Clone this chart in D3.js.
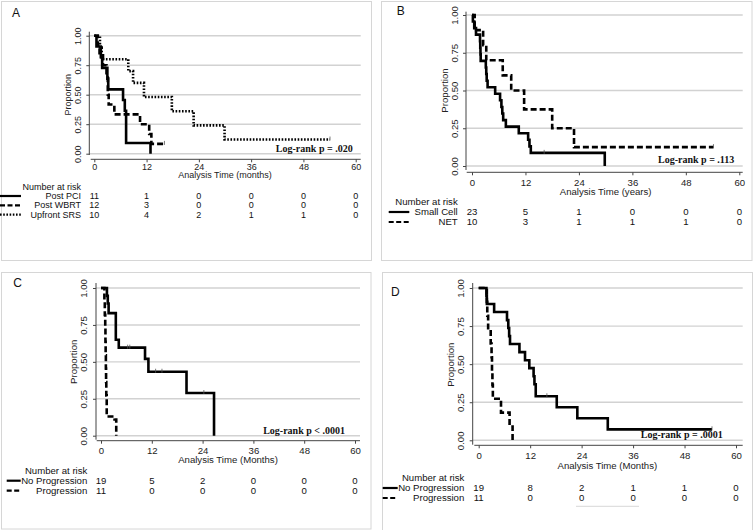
<!DOCTYPE html>
<html><head><meta charset="utf-8">
<script src="https://cdn.jsdelivr.net/npm/d3@7"></script>
<style>body{margin:0;background:#fff}svg{display:block}</style>
</head><body>
<svg id="chart" width="754" height="530"></svg>
<script>
// ---------- data ----------
const xTicks = [0, 12, 24, 36, 48, 60];
const yTicks = [0, 0.25, 0.5, 0.75, 1];

// Panel A (months)
const A_postPCI = [[0,1],[0.5,0.909],[1.5,0.818],[1.8,0.727],[3.0,0.636],[3.2,0.545],[6.6,0.455],[7.0,0.364],[7.3,0.091],[12.9,0]];
const A_postWBRT = [[0,1],[0.8,0.917],[1.2,0.833],[2.0,0.75],[2.8,0.667],[3.1,0.5],[3.3,0.417],[4.6,0.333],[10.5,0.25],[12.6,0.167],[13.1,0.083],[16.1,0.083]];
const A_upfrontSRS = [[0,1],[1.3,0.9],[1.7,0.8],[7.8,0.7],[8.9,0.6],[11.4,0.48],[17.8,0.36],[22.8,0.24],[29.9,0.12],[54.1,0.12]];
const A_censor_WBRT = [[16.1,0.083]];
const A_censor_SRS = [[54.1,0.12]];
const A_risk_PCI = [11, 1, 0, 0, 0, 0];
const A_risk_WBRT = [12, 3, 0, 0, 0, 0];
const A_risk_SRS = [10, 4, 2, 1, 1, 0];

// Panel B
const B_smallCell = [[0,1],[0.2,0.957],[0.5,0.913],[0.9,0.870],[1.8,0.826],[1.85,0.783],[1.9,0.739],[1.95,0.696],[3.1,0.652],[3.2,0.609],[3.3,0.565],[3.5,0.522],[5.2,0.478],[6.3,0.435],[6.6,0.391],[6.8,0.348],[7.0,0.304],[7.6,0.261],[10.5,0.217],[12.6,0.174],[12.9,0.130],[13.2,0.087],[29.8,0]];
const B_NET = [[0,1],[0.6,0.9],[2.5,0.8],[3.2,0.7],[6.9,0.6],[8.8,0.5],[11.7,0.375],[18.0,0.25],[22.9,0.125],[54.2,0.125]];
const B_censor_small = [[16.2,0.087]];
const B_censor_NET = [[54.2,0.125]];
const B_risk_small = [23, 5, 1, 0, 0, 0];
const B_risk_NET = [10, 3, 1, 1, 1, 0];

// Panel C
const C_noProg = [[0,1],[1.4,0.947],[1.6,0.895],[1.8,0.83],[3.5,0.65],[4.2,0.596],[10.4,0.52],[11.2,0.433],[20.2,0.289],[26.7,0]];
const C_prog = [[0,1],[0.8,0.909],[0.9,0.818],[1.0,0.727],[1.05,0.636],[1.1,0.545],[1.15,0.455],[1.2,0.364],[1.25,0.273],[1.35,0.13],[3.2,0.11],[3.6,0]];
const C_censor_noProg = [[6.3,0.596],[6.8,0.596],[12.9,0.433],[14.4,0.433],[24.3,0.289]];
const C_risk_noProg = [19, 5, 2, 0, 0, 0];
const C_risk_prog = [11, 0, 0, 0, 0, 0];

// Panel D
const D_noProg = [[0,1],[1.8,0.947],[1.9,0.895],[3.6,0.842],[6.6,0.789],[6.9,0.737],[7.1,0.684],[7.3,0.632],[9.5,0.579],[10.8,0.526],[11.8,0.474],[12.8,0.421],[13.0,0.368],[13.3,0.289],[18.2,0.217],[23.0,0.145],[30.1,0.072],[54.4,0.072]];
const D_prog = [[0,1],[1.9,0.909],[2.0,0.818],[2.2,0.727],[2.8,0.636],[3.0,0.545],[3.1,0.455],[3.2,0.364],[3.3,0.273],[5.2,0.182],[7.2,0.091],[7.9,0]];
const D_censor_noProg = [[15.9,0.289],[54.4,0.072]];
const D_risk_noProg = [19, 8, 2, 1, 1, 0];
const D_risk_prog = [11, 0, 0, 0, 0, 0];

// ---------- styles / layout ----------
const DASH = {solid: null, dash: "6,3", dot: "1.6,1.6"};
const LEGDASH = {solid: null, dash: "5,2.5", dot: "1.6,1.6"};

const panels = [
  {letter:"A", title:"Analysis Time (months)", logrank:"Log-rank p = .020",
   series:[{d:A_postPCI,s:"solid"},{d:A_postWBRT,s:"dash"},{d:A_upfrontSRS,s:"dot"}],
   censors:[A_censor_WBRT, A_censor_SRS],
   risk:[{name:"Post PCI",v:A_risk_PCI,s:"solid"},{name:"Post WBRT",v:A_risk_WBRT,s:"dash"},{name:"Upfront SRS",v:A_risk_SRS,s:"dot"}],
   L:{x0:94.3,x1:355.7,yTop:35.7,yBot:153.7,yAxisX:89.3,yAxisT:31.7,yAxisB:155,xAxisY:159.3,xAxisL:90.7,xAxisR:360.7,
      ytlX:78.3,propX:68.3,propY:94.7,xtBase:169.6,titleBase:178,lrR:352.7,lrBase:151.7,narR:81,narBase:189.5,
      rowBase:[199,208.3,217.6],legX0:0,legX1:21,letter:[12,17],border:[1.5,1.5,370,259],fs:9}},
  {letter:"B", title:"Analysis Time (years)", logrank:"Log-rank p = .113",
   series:[{d:B_smallCell,s:"solid"},{d:B_NET,s:"dash"}],
   censors:[B_censor_small, B_censor_NET],
   risk:[{name:"Small Cell",v:B_risk_small,s:"solid"},{name:"NET",v:B_risk_NET,s:"dash"}],
   L:{x0:472,x1:739.3,yTop:15,yBot:166,yAxisX:466,yAxisT:11.7,yAxisB:170,xAxisY:172.3,xAxisL:466.7,xAxisR:742.7,
      ytlX:455,propX:445,propY:90.5,xtBase:185.8,titleBase:195.2,lrR:734.3,lrBase:163,narR:457.7,narBase:205,
      rowBase:[215,225],legX0:388.7,legX1:409.3,letter:[396.7,15],border:[381.5,1.5,370.5,259],fs:9.6}},
  {letter:"C", title:"Analysis Time (Months)", logrank:"Log-rank p < .0001",
   series:[{d:C_noProg,s:"solid"},{d:C_prog,s:"dash"}],
   censors:[C_censor_noProg],
   risk:[{name:"No Progression",v:C_risk_noProg,s:"solid"},{name:"Progression",v:C_risk_prog,s:"dash"}],
   L:{x0:101,x1:355,yTop:288,yBot:435.7,yAxisX:96,yAxisT:283,yAxisB:439.7,xAxisY:440.7,xAxisL:96.7,xAxisR:360,
      ytlX:83.3,propX:74,propY:361.8,xtBase:453.6,titleBase:463.3,lrR:345,lrBase:433.5,narR:87.3,narBase:473.7,
      rowBase:[483.7,493.7],legX0:6.7,legX1:20.7,letter:[13.3,287.3],border:[1.5,272.5,369.5,256.5],fs:9.6}},
  {letter:"D", title:"Analysis Time (Months)", logrank:"Log-rank p = .0001",
   series:[{d:D_noProg,s:"solid"},{d:D_prog,s:"dash"}],
   censors:[D_censor_noProg],
   risk:[{name:"No Progression",v:D_risk_noProg,s:"solid"},{name:"Progression",v:D_risk_prog,s:"dash"}],
   L:{x0:478.7,x1:736,yTop:288,yBot:440.3,yAxisX:472.7,yAxisT:283,yAxisB:444.7,xAxisY:445.3,xAxisL:474.3,xAxisR:742.7,
      ytlX:460.3,propX:451,propY:364.7,xtBase:459,titleBase:468.8,lrR:722.7,lrBase:438.3,narR:464.3,narBase:481,
      rowBase:[491,501],legX0:382.7,legX1:397.7,letter:[391,296.3],border:[382.5,272.5,370,258],fs:9.6}}
];

const svg = d3.select("#chart");
const SANS = "'Liberation Sans', Arial, sans-serif";
const SERIF = "'Liberation Serif', 'Times New Roman', serif";

panels.forEach(p => {
  const L = p.L;
  const g = svg.append("g");
  // border
  g.append("rect").attr("x", L.border[0]).attr("y", L.border[1]).attr("width", L.border[2]).attr("height", L.border[3])
    .attr("fill", "none").attr("stroke", "#d6d6d6").attr("stroke-width", 1);
  // panel letter
  g.append("text").attr("x", L.letter[0]).attr("y", L.letter[1]).text(p.letter)
    .attr("font-family", SANS).attr("font-size", 12).attr("fill", "#111");

  const x = d3.scaleLinear().domain([0, 60]).range([L.x0, L.x1]);
  const y = d3.scaleLinear().domain([0, 1]).range([L.yBot, L.yTop]);

  // gridlines
  g.append("g").selectAll("line").data(yTicks).join("line")
    .attr("x1", L.yAxisX).attr("x2", L.xAxisR).attr("y1", d => y(d)).attr("y2", d => y(d))
    .attr("stroke", "#d2d2d2").attr("stroke-width", 1.4);

  // y axis
  const ya = g.append("g").attr("transform", `translate(${L.yAxisX},0)`)
    .call(d3.axisLeft(y).tickValues(yTicks).tickFormat(d3.format(".2f")).tickSize(3).tickSizeOuter(0));
  ya.select(".domain").remove();
  ya.append("line").attr("x1", 0).attr("x2", 0).attr("y1", L.yAxisT).attr("y2", L.yAxisB).attr("stroke", "#444");
  ya.selectAll(".tick line").attr("stroke", "#444");
  ya.selectAll(".tick text").attr("x", null).attr("dy", "0.35em").attr("text-anchor", "middle")
    .attr("transform", `translate(${L.ytlX - L.yAxisX},0) rotate(-90)`)
    .attr("font-family", SANS).attr("font-size", L.fs).attr("fill", "#222");

  // x axis
  const fs = L.fs;
  const xa = g.append("g").attr("transform", `translate(0,${L.xAxisY})`)
    .call(d3.axisBottom(x).tickValues(xTicks).tickSize(3).tickSizeOuter(0).tickPadding(L.xtBase - L.xAxisY - 3 - 0.71 * fs));
  xa.select(".domain").remove();
  xa.append("line").attr("x1", L.xAxisL).attr("x2", L.xAxisR).attr("y1", 0).attr("y2", 0).attr("stroke", "#444");
  xa.selectAll(".tick line").attr("stroke", "#444");
  xa.selectAll(".tick text").attr("font-family", SANS).attr("font-size", fs).attr("fill", "#222");

  // axis titles
  g.append("text").attr("x", (L.x0 + L.x1) / 2).attr("y", L.titleBase).attr("text-anchor", "middle")
    .attr("font-family", SANS).attr("font-size", fs).attr("fill", "#222").text(p.title);
  g.append("text").attr("transform", `translate(${L.propX},${L.propY}) rotate(-90)`).attr("dy", "0.35em")
    .attr("text-anchor", "middle").attr("font-family", SANS).attr("font-size", fs).attr("fill", "#222").text("Proportion");

  // curves
  const line = d3.line().x(d => x(d[0])).y(d => y(d[1])).curve(d3.curveStepAfter);
  p.series.forEach(s => {
    g.append("path").attr("d", line(s.d)).attr("fill", "none").attr("stroke", "#000")
      .attr("stroke-width", 2.6).attr("stroke-dasharray", DASH[s.s]);
  });
  // censor marks
  p.censors.forEach(arr => {
    g.append("g").selectAll("line").data(arr).join("line")
      .attr("x1", d => x(d[0])).attr("x2", d => x(d[0]))
      .attr("y1", d => y(d[1]) - 3).attr("y2", d => y(d[1]) + 1)
      .attr("stroke", "#555").attr("stroke-width", 0.8);
  });

  // log-rank
  g.append("text").attr("x", L.lrR).attr("y", L.lrBase).attr("text-anchor", "end")
    .attr("font-family", SERIF).attr("font-weight", "bold").attr("font-size", 10).attr("fill", "#111").text(p.logrank);

  // number at risk
  g.append("text").attr("x", L.narR).attr("y", L.narBase).attr("text-anchor", "end")
    .attr("font-family", SANS).attr("font-size", fs).attr("fill", "#111").text("Number at risk");
  p.risk.forEach((r, i) => {
    const base = L.rowBase[i];
    g.append("text").attr("x", L.narR).attr("y", base).attr("text-anchor", "end")
      .attr("font-family", SANS).attr("font-size", fs).attr("fill", "#111").text(r.name);
    g.append("line").attr("x1", L.legX0).attr("x2", L.legX1).attr("y1", base - 3).attr("y2", base - 3)
      .attr("stroke", "#000").attr("stroke-width", 2.2).attr("stroke-dasharray", LEGDASH[r.s]);
    g.append("g").selectAll("text").data(r.v).join("text")
      .attr("x", (d, j) => x(xTicks[j])).attr("y", base).attr("text-anchor", "middle")
      .attr("font-family", SANS).attr("font-size", fs).attr("fill", "#111").text(d => d);
  });
});

// faint stray rule under panel D risk table
svg.append("line").attr("x1", 576).attr("x2", 639).attr("y1", 506.3).attr("y2", 506.3)
  .attr("stroke", "#d8d8d8").attr("stroke-width", 1);
</script>
</body></html>
